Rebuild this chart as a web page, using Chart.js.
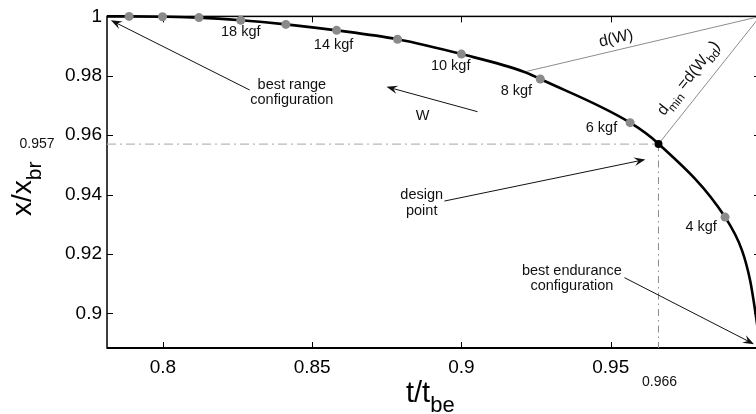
<!DOCTYPE html>
<html>
<head>
<meta charset="utf-8">
<script src="https://cdn.jsdelivr.net/npm/chart.js@4.4.0/dist/chart.umd.min.js"></script>
<style>
  html, body { margin: 0; padding: 0; background: #fff; overflow: hidden; }
  #wrap { position: relative; width: 756px; height: 414px; overflow: hidden; }
  canvas { display: block; }
</style>
</head>
<body>
<div id="wrap"><canvas id="chart" width="770" height="414"></canvas></div>
<script>
// values (t/t_be , x/x_br)
const curveT = [0.7813, 0.7887, 0.7999, 0.8121, 0.8261, 0.8412, 0.8582, 0.8786, 0.9000, 0.9211, 0.9264, 0.9565, 0.9659, 0.9883, 0.9940, 0.9967, 0.9985, 1.0];
const curveX = [1.0, 1.0, 0.9999, 0.9996, 0.9987, 0.9973, 0.9953, 0.9923, 0.9873, 0.9813, 0.9789, 0.9642, 0.9572, 0.9324, 0.9211, 0.9110, 0.9000, 0.8890];

const markerKgf = [24, 22, 20, 18, 16, 14, 12, 10, 8, 6, 4];
const markerT = [0.7887, 0.7999, 0.8121, 0.8261, 0.8412, 0.8582, 0.8786, 0.9000, 0.9264, 0.9565, 0.9883];
const markerX = [1.0, 0.9999, 0.9996, 0.9987, 0.9973, 0.9953, 0.9923, 0.9873, 0.9789, 0.9642, 0.9324];
const labelledKgf = [18, 14, 10, 8, 6, 4];

const designT = 0.966;
const designX = 0.957;
const dwT = 0.9211;   // point on the curve used for d(W)
const dwX = 0.9813;
const cornerT = 1.0;
const cornerX = 1.0;

const xTicks = [0.8, 0.85, 0.9, 0.95, 1];
const yTicks = [0.9, 0.92, 0.94, 0.96, 0.98, 1];
const xMin = 0.7813, xMax = 1.0;
const yMin = 0.8883, yMax = 1.0;

const FONT = '"Liberation Sans", Arial, Helvetica, sans-serif';

// annotation placement (data coords)
const kgfLabelPos = { 18: [0.8261, 0.9933], 14: [0.8572, 0.9890], 10: [0.8964, 0.9819], 8: [0.9184, 0.9736], 6: [0.9469, 0.9612], 4: [0.9803, 0.9278] };
const notes = [
    ['best range', 0.8432, 0.9756], ['configuration', 0.8432, 0.9706],
    ['W', 0.8870, 0.9652],
    ['design', 0.8867, 0.9385], ['point', 0.8867, 0.9331],
    ['best endurance', 0.9370, 0.9130], ['configuration', 0.9370, 0.9080]
];
const arrows = [
    [0.8291, 0.9752, 0.7826, 0.9987],
    [0.9054, 0.9679, 0.8749, 0.9763],
    [0.8943, 0.9378, 0.9616, 0.9518],
    [0.9546, 0.9120, 0.9980, 0.8896]
];

const pts = (ts, xs) => ts.map((t, i) => ({ x: t, y: xs[i] }));

function richText(ctx, parts, x, y, angle, align) {
    ctx.save();
    ctx.translate(x, y);
    ctx.rotate(angle);
    ctx.textBaseline = 'alphabetic';
    ctx.textAlign = 'left';
    let w = 0;
    parts.forEach(p => { ctx.font = p.size + 'px ' + FONT; w += ctx.measureText(p.t).width + (p.gap || 0); });
    let cx = align === 'center' ? -w / 2 : 0;
    parts.forEach(p => {
        ctx.font = p.size + 'px ' + FONT;
        ctx.fillText(p.t, cx, p.dy || 0);
        cx += ctx.measureText(p.t).width + (p.gap || 0);
    });
    ctx.restore();
}

function arrow(ctx, x1, y1, x2, y2) {
    const a = Math.atan2(y2 - y1, x2 - x1);
    const len = 12, spread = 0.36;
    ctx.beginPath();
    ctx.moveTo(x1, y1);
    ctx.lineTo(x2 - Math.cos(a) * 6, y2 - Math.sin(a) * 6);
    ctx.stroke();
    ctx.beginPath();
    ctx.moveTo(x2, y2);
    ctx.lineTo(x2 - len * Math.cos(a - spread), y2 - len * Math.sin(a - spread));
    ctx.lineTo(x2 - 7 * Math.cos(a), y2 - 7 * Math.sin(a));
    ctx.lineTo(x2 - len * Math.cos(a + spread), y2 - len * Math.sin(a + spread));
    ctx.closePath();
    ctx.fill();
}

const framePlugin = {
    id: 'frame',
    beforeDatasetsDraw(chart) {
        const { ctx, chartArea: a, scales: { x, y } } = chart;
        ctx.save();
        ctx.strokeStyle = '#000';
        ctx.lineWidth = 1;
        ctx.beginPath();
        xTicks.forEach(v => {
            const p = Math.round(x.getPixelForValue(v)) + 0.5;
            ctx.moveTo(p, a.bottom); ctx.lineTo(p, a.bottom - 6);
            ctx.moveTo(p, a.top); ctx.lineTo(p, a.top + 6);
        });
        yTicks.forEach(v => {
            const p = Math.round(y.getPixelForValue(v)) + 0.5;
            ctx.moveTo(a.left, p); ctx.lineTo(a.left + 6, p);
            ctx.moveTo(a.right, p); ctx.lineTo(a.right - 6, p);
        });
        ctx.stroke();
        ctx.lineWidth = 1.5;
        ctx.strokeRect(a.left, a.top, a.right - a.left, a.bottom - a.top);
        ctx.lineWidth = 2.2;
        ctx.beginPath();
        ctx.moveTo(a.left, a.bottom); ctx.lineTo(a.right, a.bottom);
        ctx.stroke();
        ctx.restore();
    }
};

const notesPlugin = {
    id: 'notes',
    afterDatasetsDraw(chart) {
        const { ctx, chartArea: a, scales: { x, y } } = chart;
        const px = v => x.getPixelForValue(v);
        const py = v => y.getPixelForValue(v);
        ctx.save();
        ctx.fillStyle = '#111';
        ctx.strokeStyle = '#111';
        ctx.textAlign = 'center';
        ctx.textBaseline = 'alphabetic';
        ctx.font = '14.5px ' + FONT;

        labelledKgf.forEach(k => {
            const [t, v] = kgfLabelPos[k];
            ctx.fillText(k + ' kgf', px(t), py(v));
        });
        notes.forEach(([txt, t, v]) => ctx.fillText(txt, px(t), py(v)));

        ctx.lineWidth = 1;
        arrows.forEach(([t1, v1, t2, v2]) => arrow(ctx, px(t1), py(v1), px(t2), py(v2)));

        // small value labels of the design point
        ctx.font = '14px ' + FONT;
        ctx.fillText(designX.toFixed(3), a.left - 70, py(designX) + 4);
        ctx.fillText(designT.toFixed(3), px(designT) + 1, a.bottom + 38);

        // d(W) along its line
        const x0 = px(dwT), y0 = py(dwX), x1 = px(cornerT), y1 = py(cornerX);
        let ang = Math.atan2(y1 - y0, x1 - x0);
        let f = 0.40, off = 7;
        richText(ctx, [{ t: 'd(W)', size: 16 }],
            x0 + (x1 - x0) * f + Math.sin(ang) * off, y0 + (y1 - y0) * f - Math.cos(ang) * off, ang, 'center');

        // d_min = d(W_bd) along the second line
        const x2 = px(designT), y2 = py(designX);
        ang = Math.atan2(y1 - y2, x1 - x2);
        f = 0.43; off = 13;
        richText(ctx, [
            { t: 'd', size: 16 },
            { t: 'min', size: 12, dy: 5 },
            { t: ' =d(W', size: 16 },
            { t: 'bd', size: 12, dy: 5 },
            { t: ')', size: 16 }
        ], x2 + (x1 - x2) * f + Math.sin(ang) * off, y2 + (y1 - y2) * f - Math.cos(ang) * off, ang, 'center');

        // axis titles with subscripts
        ctx.fillStyle = '#000';
        richText(ctx, [{ t: 't/t', size: 29 }, { t: 'be', size: 22, dy: 10 }], 406, 402, 0, 'left');
        richText(ctx, [{ t: 'x/x', size: 28 }, { t: 'br', size: 21, dy: 10 }], 31, 216, -Math.PI / 2, 'left');
        ctx.restore();
    }
};

const tickFont = { family: FONT, size: 19 };

new Chart(document.getElementById('chart'), {
    type: 'scatter',
    data: {
        datasets: [
            { label: 'design point', data: [{ x: designT, y: designX }], pointRadius: 4, backgroundColor: '#000', borderWidth: 0, order: 0, clip: false },
            { label: 'weights', data: pts(markerT, markerX), pointRadius: 4.5, backgroundColor: '#8a8a8a', borderWidth: 0, order: 1, clip: false },
            { label: 'curve', data: pts(curveT, curveX), showLine: true, pointRadius: 0, borderColor: '#000', borderWidth: 2.6, cubicInterpolationMode: 'monotone', order: 2, clip: false },
            { label: 'd(W)', data: [{ x: dwT, y: dwX }, { x: cornerT, y: cornerX }], showLine: true, pointRadius: 0, borderColor: '#8c8c8c', borderWidth: 1, order: 3 },
            { label: 'dmin', data: [{ x: designT, y: designX }, { x: cornerT, y: cornerX }], showLine: true, pointRadius: 0, borderColor: '#8c8c8c', borderWidth: 1, order: 3 },
            { label: 'h guide', data: [{ x: xMin, y: designX }, { x: designT, y: designX }], showLine: true, pointRadius: 0, borderColor: '#b8b8b8', borderWidth: 1.3, borderDash: [9, 4, 2, 4], order: 4 },
            { label: 'v guide', data: [{ x: designT, y: designX }, { x: designT, y: yMin }], showLine: true, pointRadius: 0, borderColor: '#8a8a8a', borderWidth: 1, borderDash: [7, 4, 1.5, 4], order: 4 }
        ]
    },
    options: {
        responsive: false,
        animation: false,
        layout: { padding: { top: 14, right: 10, left: 0, bottom: 0 } },
        plugins: { legend: { display: false }, tooltip: { enabled: false } },
        scales: {
            x: {
                type: 'linear', min: xMin, max: xMax,
                afterBuildTicks: s => { s.ticks = xTicks.map(v => ({ value: v })); },
                afterFit: s => { s.height = 66; s.paddingLeft = 0; s.paddingRight = 0; },
                grid: { display: false, drawTicks: false },
                border: { display: false },
                ticks: { font: tickFont, color: '#000', padding: 8, maxRotation: 0, autoSkip: false, callback: v => (v === 1 ? '' : String(v)) }
            },
            y: {
                type: 'linear', min: yMin, max: yMax,
                afterBuildTicks: s => { s.ticks = yTicks.map(v => ({ value: v })); },
                afterFit: s => { s.width = 107; },
                grid: { display: false, drawTicks: false },
                border: { display: false },
                ticks: { font: tickFont, color: '#000', padding: 5, autoSkip: false, callback: v => String(v) }
            }
        }
    },
    plugins: [framePlugin, notesPlugin]
});
</script>
</body>
</html>
